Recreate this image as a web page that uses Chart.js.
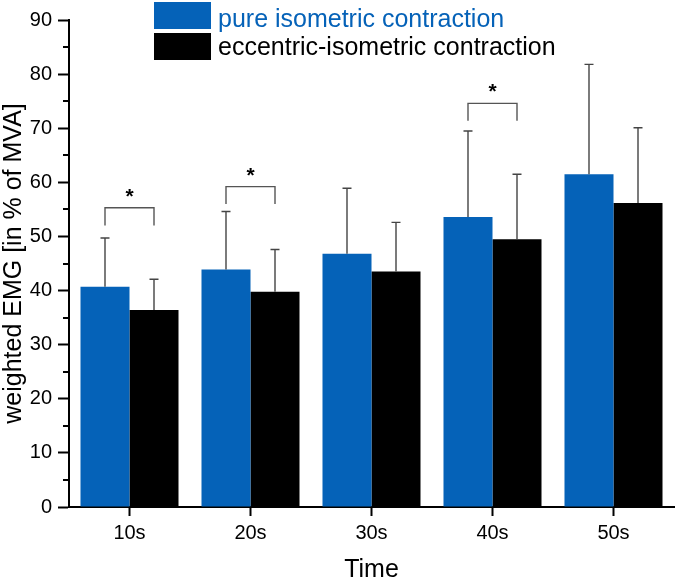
<!DOCTYPE html>
<html>
<head>
<meta charset="utf-8">
<script src="https://cdn.jsdelivr.net/npm/chart.js@4"></script>
<style>
  html, body { margin: 0; padding: 0; background: #fff; }
  #wrap { width: 675px; height: 581px; }
</style>
</head>
<body>
<div id="wrap"><canvas id="c" width="675" height="581"></canvas></div>
<script>
// ---- data ----
const categories = ['10s', '20s', '30s', '40s', '50s'];
const pureMeans = [40.7, 43.9, 46.8, 53.6, 61.5];
const pureSD    = [9.0, 10.7, 12.1, 15.9, 20.3];
const eccMeans  = [36.4, 39.8, 43.5, 49.5, 56.2];
const eccSD     = [5.7, 7.8, 9.1, 12.0, 13.9];
const seriesNames = ['pure isometric contraction', 'eccentric-isometric contraction'];
const yTicks = [0, 10, 20, 30, 40, 50, 60, 70, 80, 90];
const minorTicks = [5, 15, 25, 35, 45, 55, 65, 75, 85];
// significance brackets: category, bracket top value, leg bottom value
const sigCategories = ['10s', '20s', '40s'];
const sigTop    = [55.3, 59.2, 74.6];
const sigBottom = [52.0, 56.0, 71.4];

const FONT = "'Liberation Sans', Arial, sans-serif";
const BLUE = '#0562b8';

const errorBars = {
  id: 'errorBars',
  afterDatasetsDraw(chart) {
    const ctx = chart.ctx, y = chart.scales.y;
    const sds = [pureSD, eccSD];
    const means = [pureMeans, eccMeans];
    ctx.save();
    ctx.strokeStyle = '#444';
    ctx.lineWidth = 1.4;
    chart.data.datasets.forEach((ds, i) => {
      const meta = chart.getDatasetMeta(i);
      meta.data.forEach((bar, j) => {
        const top = y.getPixelForValue(means[i][j] + sds[i][j]);
        ctx.beginPath();
        ctx.moveTo(bar.x, bar.y);
        ctx.lineTo(bar.x, top);
        ctx.moveTo(bar.x - 4.5, top);
        ctx.lineTo(bar.x + 4.5, top);
        ctx.stroke();
      });
    });
    // brackets
    ctx.strokeStyle = '#555';
    ctx.lineWidth = 1.4;
    sigCategories.forEach((c, k) => {
      const j = categories.indexOf(c);
      const x1 = chart.getDatasetMeta(0).data[j].x;
      const x2 = chart.getDatasetMeta(1).data[j].x;
      const yt = y.getPixelForValue(sigTop[k]);
      const yb = y.getPixelForValue(sigBottom[k]);
      ctx.beginPath();
      ctx.moveTo(x1, yb);
      ctx.lineTo(x1, yt);
      ctx.lineTo(x2, yt);
      ctx.lineTo(x2, yb);
      ctx.stroke();
      ctx.fillStyle = '#000';
      ctx.font = 'bold 21px ' + FONT;
      ctx.textAlign = 'center';
      ctx.textBaseline = 'alphabetic';
      ctx.fillText('*', (x1 + x2) / 2, yt - 5);
    });
    // minor ticks on y axis
    const left = chart.chartArea.left;
    ctx.strokeStyle = '#000';
    ctx.lineWidth = 2;
    minorTicks.forEach(v => {
      const py = Math.round(y.getPixelForValue(v));
      ctx.beginPath();
      ctx.moveTo(left - 6, py);
      ctx.lineTo(left, py);
      ctx.stroke();
    });
    ctx.restore();
  }
};

const legendPlugin = {
  id: 'customLegend',
  afterDraw(chart) {
    const ctx = chart.ctx;
    const x0 = chart.chartArea.left + 85;
    const rows = [2, 33];
    const baselines = [26.5, 55];
    ctx.save();
    chart.data.datasets.forEach((ds, i) => {
      ctx.fillStyle = ds.backgroundColor;
      ctx.fillRect(x0, rows[i], 57, 27);
      ctx.fillStyle = i === 0 ? BLUE : '#000';
      ctx.font = '25px ' + FONT;
      ctx.textAlign = 'left';
      ctx.textBaseline = 'alphabetic';
      ctx.fillText(ds.label, x0 + 64, baselines[i]);
    });
    ctx.restore();
  }
};

new Chart(document.getElementById('c'), {
  type: 'bar',
  data: {
    labels: categories,
    datasets: [
      { label: seriesNames[0], data: pureMeans, backgroundColor: BLUE, borderWidth: 0,
        categoryPercentage: 0.81, barPercentage: 1.0 },
      { label: seriesNames[1], data: eccMeans, backgroundColor: '#000', borderWidth: 0,
        categoryPercentage: 0.81, barPercentage: 1.0 }
    ]
  },
  options: {
    responsive: false,
    animation: false,
    devicePixelRatio: 1,
    layout: { padding: { top: 20, right: 1, left: 0, bottom: 0 } },
    plugins: { legend: { display: false }, tooltip: { enabled: false } },
    scales: {
      x: {
        grid: { display: true, drawOnChartArea: false, offset: false, tickLength: 9, tickColor: '#000', tickWidth: 2 },
        border: { color: '#000', width: 2 },
        ticks: { color: '#000', font: { family: FONT, size: 20 }, padding: 5 },
        title: { display: true, text: 'Time', color: '#000', font: { family: FONT, size: 25, lineHeight: 0.85 }, padding: 0 },
        afterFit(s) { s.height = 74; }
      },
      y: {
        min: 0, max: 90,
        afterBuildTicks(s) { s.ticks = yTicks.map(v => ({ value: v })); },
        grid: { display: true, drawOnChartArea: false, tickLength: 11, tickColor: '#000', tickWidth: 2 },
        border: { color: '#000', width: 2 },
        ticks: { color: '#000', font: { family: FONT, size: 20 }, padding: 6 },
        title: { display: true, text: 'weighted EMG [in % of MVA]', color: '#000', font: { family: FONT, size: 25, lineHeight: 1.15 }, padding: 0 },
        afterFit(s) { s.width = 69; }
      }
    }
  },
  plugins: [errorBars, legendPlugin]
});
</script>
</body>
</html>
